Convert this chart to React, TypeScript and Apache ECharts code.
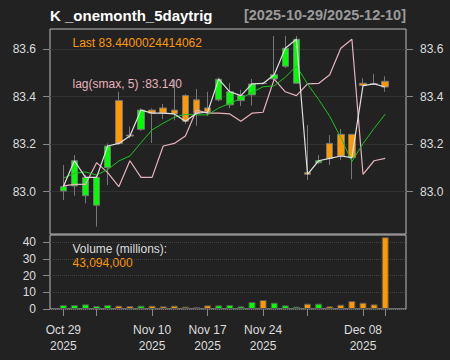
import React, { useEffect, useRef } from 'react';
import * as echarts from 'echarts';

const dates = [
  '2025-10-29', '2025-10-30', '2025-10-31', '2025-11-03', '2025-11-04', '2025-11-05', '2025-11-06', '2025-11-07',
  '2025-11-10', '2025-11-11', '2025-11-12', '2025-11-13', '2025-11-14', '2025-11-17', '2025-11-18', '2025-11-19',
  '2025-11-20', '2025-11-21', '2025-11-24', '2025-11-25', '2025-11-26', '2025-11-28', '2025-12-01', '2025-12-02',
  '2025-12-03', '2025-12-04', '2025-12-05', '2025-12-08', '2025-12-09', '2025-12-10',
];
const opens = [83.003, 83.024, 82.983, 82.943, 83.101, 83.383, 83.238, 83.262, 83.343, 83.352, 83.343, 83.404, 83.386, 83.352, 83.386,
  83.365, 83.383, 83.407, 83.456, 83.474, 83.527, 83.456, 83.080, 83.122, 83.203, 83.241, 83.241, 83.456, 83.454, 83.464];
const closes = [83.021, 83.130, 83.060, 83.060, 83.192, 83.203, 83.234, 83.343, 83.330, 83.330, 83.327, 83.296, 83.330, 83.334, 83.473,
  83.420, 83.404, 83.453, 83.455, 83.492, 83.603, 83.641, 83.073, 83.130, 83.140, 83.150, 83.143, 83.446, 83.453, 83.440];
const highs = [83.112, 83.154, 83.070, 83.070, 83.203, 83.420, 83.274, 83.350, 83.350, 83.369, 83.470, 83.410, 83.432, 83.420, 83.480,
  83.456, 83.428, 83.474, 83.460, 83.655, 83.655, 83.655, 83.280, 83.154, 83.238, 83.264, 83.241, 83.477, 83.495, 83.485];
const lows = [82.965, 82.983, 82.951, 82.853, 83.028, 83.196, 83.225, 83.255, 83.205, 83.306, 83.300, 83.285, 83.277, 83.318, 83.380,
  83.351, 83.360, 83.362, 83.450, 83.470, 83.520, 83.456, 83.049, 83.118, 83.112, 83.133, 83.052, 83.444, 83.449, 83.420];
const sma5 = [83.057, 83.077, 83.083, 83.070, 83.093, 83.129, 83.150, 83.206, 83.260, 83.288, 83.313, 83.325, 83.323, 83.323, 83.352,
  83.371, 83.392, 83.417, 83.441, 83.445, 83.481, 83.529, 83.453, 83.388, 83.317, 83.227, 83.127, 83.202, 83.266, 83.326];
const lagSmax = [83.024, 83.031, 83.031, 83.122, 83.080, 83.021, 83.130, 83.060, 83.060, 83.192, 83.203, 83.234, 83.343, 83.330, 83.330,
  83.327, 83.296, 83.330, 83.334, 83.473, 83.420, 83.404, 83.453, 83.455, 83.492, 83.603, 83.641, 83.073, 83.130, 83.140];
const volumes = [2.4, 2.4, 2.8, 1.8, 2.4, 2.0, 1.8, 2.0, 2.0, 1.6, 2.0, 1.4, 1.2, 2.2, 2.2, 2.4, 1.6, 4.2, 5.4, 3.8, 2.2, 1.4, 3.2, 3.2,
  1.6, 2.6, 4.8, 3.8, 2.8, 43.094];

const priceTicks = [83.0, 83.2, 83.4, 83.6];
const volumeTicks = [0, 10, 20, 30, 40];
const labelDates = ['2025-10-29', '2025-11-10', '2025-11-17', '2025-11-24', '2025-12-08'];
const majorTickDates = ['2025-10-29', '2025-11-03', '2025-11-10', '2025-11-17', '2025-11-24', '2025-12-01', '2025-12-08', '2025-12-10'];
const titleText = 'K _onemonth_5daytrig';
const PRICE_MIN = 82.822;
const PRICE_MAX = 83.684;
const VOL_MAX = 44.38;

const MONTHS = ['Jan', 'Feb', 'Mar', 'Apr', 'May', 'Jun', 'Jul', 'Aug', 'Sep', 'Oct', 'Nov', 'Dec'];
const FONT = '"Liberation Sans", Arial, Helvetica, sans-serif';
const UP = '#00ff00';
const DOWN = '#ff9900';
const PINK = '#e6b3bb';

function fmtDate(d: string) {
  const [y, m, dd] = d.split('-');
  return `${MONTHS[parseInt(m, 10) - 1]} ${dd}\n${y}`;
}

export default function App() {
  const ref = useRef<HTMLDivElement>(null);
  useEffect(() => {
    if (!ref.current) return;
    const chart = echarts.init(ref.current, null, { renderer: 'svg' });
    const n = dates.length;
    const lastClose = String(Math.fround(closes[n - 1])).slice(0, 16);
    const lastVol = Math.round(volumes[n - 1] * 1e6).toLocaleString('en-US');
    const lastLag = lagSmax[n - 1].toFixed(3);

    const priceAxisCommon = {
      type: 'value',
      gridIndex: 0,
      min: PRICE_MIN,
      max: PRICE_MAX,
      axisLine: { show: false },
      axisTick: { show: true, length: 7, lineStyle: { color: '#888' }, customValues: priceTicks },
      axisLabel: {
        customValues: priceTicks,
        formatter: (v: number) => v.toFixed(1),
        color: '#dddddd',
        fontSize: 12,
        fontFamily: FONT,
        margin: 14,
      },
    };

    const option: any = {
      animation: false,
      backgroundColor: '#222222',
      textStyle: { fontFamily: FONT },
      grid: [
        { left: 50, top: 29, width: 356, height: 205, show: true, borderColor: '#bbbbbb', borderWidth: 1, backgroundColor: 'transparent', containLabel: false, outerBoundsMode: 'none' },
        { left: 57.75, top: 29, width: 333, height: 205, containLabel: false, outerBoundsMode: 'none' },
        { left: 50, top: 235, width: 356, height: 74, show: true, borderColor: '#bbbbbb', borderWidth: 1, backgroundColor: 'transparent', containLabel: false, outerBoundsMode: 'none' },
        { left: 57.75, top: 235, width: 333, height: 74, containLabel: false, outerBoundsMode: 'none' },
      ],
      xAxis: [
        { gridIndex: 0, type: 'value', min: 0, max: 1, show: false },
        { gridIndex: 1, type: 'category', data: dates, boundaryGap: true, show: false },
        { gridIndex: 2, type: 'value', min: 0, max: 1, show: false },
        {
          gridIndex: 3,
          type: 'category',
          data: dates,
          boundaryGap: true,
          axisLine: { show: false },
          axisTick: {
            show: true,
            alignWithLabel: true,
            length: 7,
            interval: (i: number) => majorTickDates.includes(dates[i]),
            lineStyle: { color: '#888' },
          },
          axisLabel: {
            interval: (i: number) => labelDates.includes(dates[i]),
            formatter: (v: string) => fmtDate(v),
            color: '#dddddd',
            fontSize: 12,
            lineHeight: 16,
            margin: 13,
            fontFamily: FONT,
          },
          splitLine: { show: false },
        },
      ],
      yAxis: [
        { ...priceAxisCommon, position: 'left', splitLine: { show: true, lineStyle: { color: '#333333', width: 1 } } },
        { ...priceAxisCommon, position: 'right', splitLine: { show: false } },
        { gridIndex: 1, type: 'value', min: PRICE_MIN, max: PRICE_MAX, show: false, splitLine: { show: false } },
        {
          gridIndex: 2,
          type: 'value',
          min: 0,
          max: VOL_MAX,
          position: 'left',
          axisLine: { show: false },
          axisTick: { show: true, length: 7, lineStyle: { color: '#888' }, customValues: volumeTicks },
          axisLabel: { customValues: volumeTicks, color: '#dddddd', fontSize: 12, fontFamily: FONT, margin: 14 },
          splitLine: { show: true, lineStyle: { color: '#444444', type: 'dotted', width: 1 } },
        },
        { gridIndex: 3, type: 'value', min: 0, max: VOL_MAX, show: false, splitLine: { show: false } },
      ],
      series: [
        {
          type: 'candlestick',
          xAxisIndex: 1,
          yAxisIndex: 2,
          barWidth: 7,
          data: dates.map((_, i) => [opens[i], closes[i], lows[i], highs[i]]),
          itemStyle: { color: UP, color0: DOWN, borderColor: '#777', borderColor0: '#777', borderColorDoji: '#777', borderWidth: 1 },
        },
        {
          type: 'line', xAxisIndex: 1, yAxisIndex: 2, data: lagSmax, symbol: 'none',
          lineStyle: { color: PINK, width: 1.2 },
        },
        {
          type: 'line', xAxisIndex: 1, yAxisIndex: 2, data: sma5, symbol: 'none',
          lineStyle: { color: '#1ec41e', width: 1 },
        },
        {
          type: 'line', xAxisIndex: 1, yAxisIndex: 2, data: closes, symbol: 'none',
          lineStyle: { color: '#e0e0e0', width: 1.2 },
        },
        {
          type: 'bar',
          xAxisIndex: 3,
          yAxisIndex: 4,
          barWidth: 7,
          data: volumes.map((v, i) => ({
            value: v,
            itemStyle: { color: closes[i] > opens[i] ? UP : DOWN, borderColor: '#555', borderWidth: 1 },
          })),
        },
      ],
      graphic: [
        {
          type: 'text', x: 50, y: 15,
          style: { text: titleText, fill: '#ffffff', font: `bold 15px ${FONT}`, textAlign: 'left', align: 'left', textVerticalAlign: 'middle', verticalAlign: 'middle' },
        },
        {
          type: 'text', x: 406, y: 15,
          style: { text: `[${dates[0]}/${dates[n - 1]}]`, fill: '#9a9a9a', font: `bold 14.5px ${FONT}`, textAlign: 'right', align: 'right', textVerticalAlign: 'middle', verticalAlign: 'middle' },
        },
        {
          type: 'text', x: 72.5, y: 43,
          style: { text: `Last ${lastClose}`, fill: DOWN, font: `12px ${FONT}`, textAlign: 'left', align: 'left', textVerticalAlign: 'middle', verticalAlign: 'middle' },
        },
        {
          type: 'text', x: 72.5, y: 83.5,
          style: { text: `lag(smax, 5) :${lastLag}`, fill: PINK, font: `12px ${FONT}`, textAlign: 'left', align: 'left', textVerticalAlign: 'middle', verticalAlign: 'middle' },
        },
        {
          type: 'text', x: 72.5, y: 249,
          style: { text: 'Volume (millions):', fill: '#dddddd', font: `12px ${FONT}`, textAlign: 'left', align: 'left', textVerticalAlign: 'middle', verticalAlign: 'middle' },
        },
        {
          type: 'text', x: 72.5, y: 263,
          style: { text: lastVol, fill: DOWN, font: `12px ${FONT}`, textAlign: 'left', align: 'left', textVerticalAlign: 'middle', verticalAlign: 'middle' },
        },
      ],
    };
    chart.setOption(option);
    return () => chart.dispose();
  }, []);

  return (
    <div style={{ position: 'absolute', left: 0, top: 0, width: 450, height: 360, background: '#222222' }}>
      <div ref={ref} style={{ width: 450, height: 360 }} />
    </div>
  );
}
